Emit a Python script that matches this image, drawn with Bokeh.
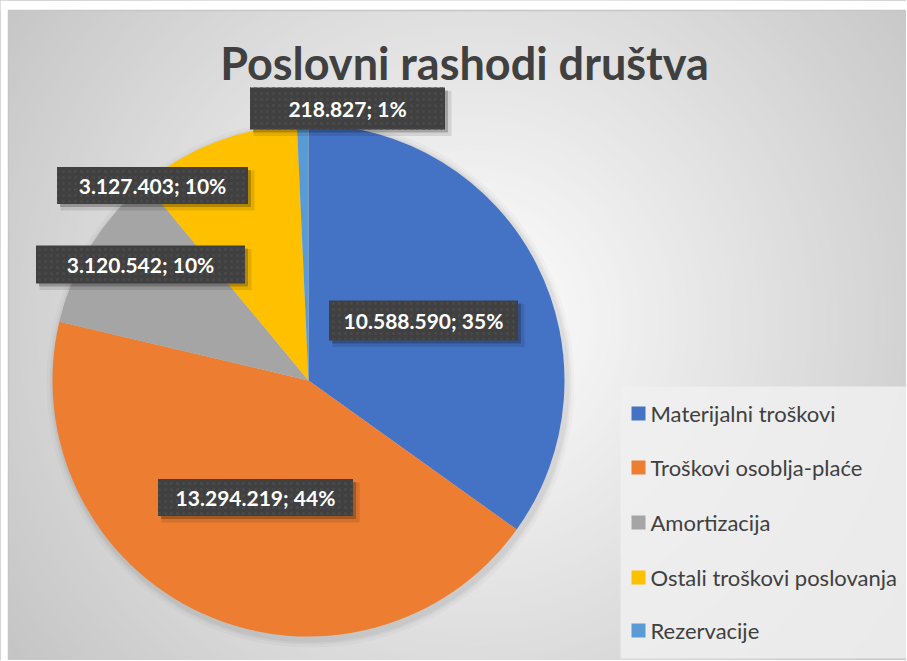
import numpy as np
from bokeh.plotting import figure
from bokeh.models import ColumnDataSource, Range1d
from bokeh.core.properties import value
from bokeh.embed import file_html
from bokeh.resources import INLINE

# ---- data ----
title_text = "Poslovni rashodi društva"
categories = ["Materijalni troškovi", "Troškovi osoblja-plaće", "Amortizacija",
              "Ostali troškovi poslovanja", "Rezervacije"]
amounts = [10588590, 13294219, 3120542, 3127403, 218827]
colors = ["#4472C4", "#ED7D31", "#A5A5A5", "#FFC000", "#5B9BD5"]

# ---- layout (page pixel coordinates of the reference) ----
W, H = 906, 660
def X(px): return px
def Y(py): return H - py

frame = (8, 10, 912, 665)
pie_cx, pie_cy, pie_r = X(308), Y(380), 256
# label box centres and sizes (page px)
label_boxes = [(423, 320, 189, 40), (255, 497, 195, 37), (140, 264, 209, 38),
               (152, 185, 191, 37), (347, 108, 195, 42)]
legend_box = (620, 386, 912, 658)
legend_rows = [413, 467, 522, 577, 630]

p = figure(width=W, height=H, output_backend="svg", toolbar_location=None,
           x_range=Range1d(0, W), y_range=Range1d(0, H), min_border=0)
p.axis.visible = False
p.grid.visible = False
p.outline_line_color = None
p.background_fill_color = "white"
p.border_fill_color = "white"

# radial gradient background
gcx, gcy = X(470), Y(320)
radii = np.arange(620, 0, -6)
shades = []
for r in radii:
    t = min(r / 580.0, 1.0)
    g = int(round(255 - (255 - 196) * t))
    shades.append("#%02x%02x%02x" % (g, g, g))
p.circle(x=[gcx] * len(radii), y=[gcy] * len(radii), radius=radii,
         fill_color=shades, line_color=None)
# white margins outside the chart frame + frame line
p.quad(left=[0, 0], right=[W, X(frame[0])], top=[H, H], bottom=[Y(frame[1]), 0],
       fill_color="white", line_color=None)
p.quad(left=[X(frame[0])], right=[X(frame[2])], top=[Y(frame[1])], bottom=[Y(frame[3])],
       fill_color=None, line_color="#c6c6c6", line_width=1.5)

# soft pie shadow
for k, a in zip([8, 5, 3], [0.025, 0.035, 0.045]):
    p.circle(x=[pie_cx + 2], y=[pie_cy - 3], radius=pie_r + k, fill_color="black",
             fill_alpha=a, line_color=None)

# pie
total = float(sum(amounts))
fr = np.array(amounts) / total
cum = np.concatenate([[0], np.cumsum(fr)])
start = np.pi / 2 - cum[:-1] * 2 * np.pi
end = np.pi / 2 - cum[1:] * 2 * np.pi
src = ColumnDataSource(dict(start=start, end=end, color=colors, cat=categories))
p.wedge(x=pie_cx, y=pie_cy, radius=pie_r, start_angle="start", end_angle="end",
        direction="clock", fill_color="color", line_color=None, source=src)

# data labels
texts = []
for v, f in zip(amounts, fr):
    texts.append(f"{v:,}".replace(",", ".") + "; " + f"{int(round(f * 100))}%")
lx = [X(b[0]) for b in label_boxes]
ly = [Y(b[1]) for b in label_boxes]
lw = [b[2] for b in label_boxes]
lh = [b[3] for b in label_boxes]
p.rect(x=[x + 5 for x in lx], y=[y - 5 for y in ly], width=[w + 3 for w in lw],
       height=[h + 3 for h in lh], fill_color="black", fill_alpha=0.10, line_color=None)
p.rect(x=[x + 3 for x in lx], y=[y - 3 for y in ly], width=lw, height=lh,
       fill_color="black", fill_alpha=0.22, line_color=None)
p.rect(x=lx, y=ly, width=lw, height=lh, fill_color="#404040", line_color=None,
       hatch_pattern=".", hatch_color="#494949", hatch_scale=6, hatch_weight=1)
p.text(x=lx, y=ly, text=texts, text_font=value("Lato"), text_font_style="bold",
       text_font_size="21px", text_color="white", text_align="center",
       text_baseline="middle")

# title
p.text(x=[X(464)], y=[Y(62)], text=[title_text], text_font=value("Lato"),
       text_font_style="bold", text_font_size="45px", text_color="#404040",
       text_align="center", text_baseline="middle")

# legend
lx0, ly0, lx1, ly1 = legend_box
p.quad(left=[X(lx0)], right=[X(lx1)], top=[Y(ly0)], bottom=[Y(ly1)],
       fill_color="#f0f0f0", fill_alpha=0.85, line_color=None)
p.rect(x=[X(638)] * len(categories), y=[Y(r) for r in legend_rows],
       width=14, height=14, fill_color=colors, line_color=None)
p.text(x=[X(650)] * len(categories), y=[Y(r) for r in legend_rows], text=categories,
       text_font=value("Lato"), text_font_size="22px", text_color="#404040",
       text_align="left", text_baseline="middle")

open("out.html", "w").write(file_html(p, INLINE))
